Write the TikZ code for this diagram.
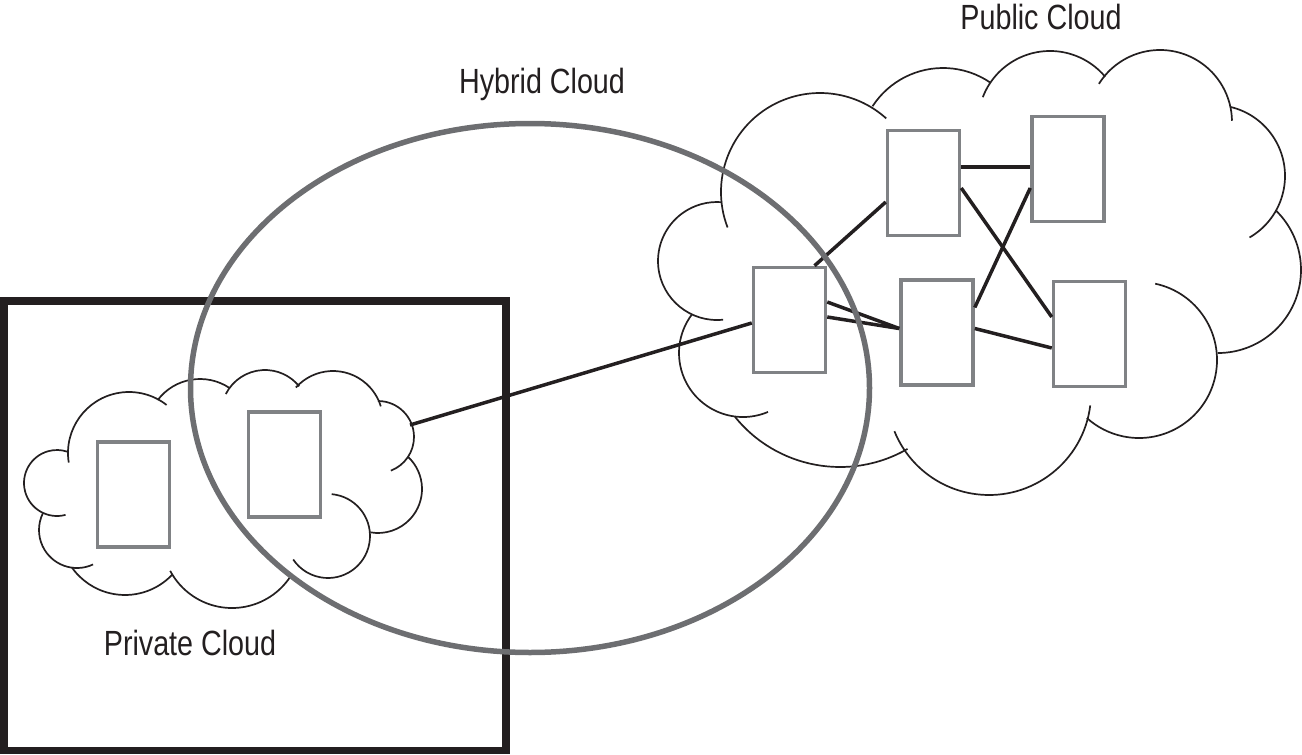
\documentclass[tikz,border=0pt]{standalone}
\usepackage{fontspec}
\newfontfamily\labelfont{Liberation Sans}[FakeStretch=0.82]
\definecolor{inkblack}{HTML}{231F20}
\definecolor{boxgray}{HTML}{808285}
\definecolor{ringgray}{HTML}{6D6E71}
\tikzset{
  cloud line/.style={line width=1.7pt, draw=inkblack},
  server box/.style={draw=boxgray, line width=3.5pt, minimum width=72pt, minimum height=105pt, inner sep=0pt},
  link/.style={line width=3.5pt, draw=inkblack},
  cloud label/.style={font=\labelfont\fontsize{35}{40}\selectfont, text=inkblack, inner sep=0pt, anchor=base},
}
\begin{document}
\begin{tikzpicture}[x=1pt, y=-1pt]
                \useasboundingbox (0,0) rectangle (1302,755);
                
                % Drawing private boundary
                \draw [line width=7.5pt, draw=inkblack] (3.75,301) rectangle (506,750.5);%
                
                % Drawing private cloud, puff by puff
                \draw [cloud line] (57,483) ++(75:33) arc [start angle=75, end angle=288, radius=33];%
                \draw [cloud line] (129,453) ++(171:61) arc [start angle=171, end angle=308, radius=61];%
                \draw [cloud line] (200,432) ++(217:53) arc [start angle=217, end angle=304, radius=53];%
                \draw [cloud line] (265,414) ++(207:44) arc [start angle=207, end angle=321, radius=44];%
                \draw [cloud line] (333,421) ++(222:50) arc [start angle=222, end angle=343, radius=50];%
                \draw [cloud line] (378,437) ++(270:36) arc [start angle=270, end angle=429, radius=36];%
                \draw [cloud line] (378,489) ++(313:44) arc [start angle=313, end angle=460, radius=44];%
                \draw [cloud line] (328,536) ++(275:42) arc [start angle=275, end angle=506, radius=42];%
                \draw [cloud line] (232,538) ++(34:70) arc [start angle=34, end angle=152, radius=70];%
                \draw [cloud line] (125,530) ++(43:65) arc [start angle=43, end angle=145, radius=65];%
                \draw [cloud line] (77,530) ++(65:38) arc [start angle=65, end angle=206, radius=38];%
                
                % Drawing public cloud, puff by puff
                \draw [cloud line] (717,261) ++(84:59) arc [start angle=84, end angle=275, radius=59];%
                \draw [cloud line] (820,192) ++(159:99) arc [start angle=159, end angle=312, radius=99];%
                \draw [cloud line] (943,152) ++(213:84) arc [start angle=213, end angle=304, radius=84];%
                \draw [cloud line] (1050,123) ++(201:72) arc [start angle=201, end angle=320, radius=72];%
                \draw [cloud line] (1160,122) ++(212:72) arc [start angle=212, end angle=359, radius=72];%
                \draw [cloud line] (1214,176) ++(283:71) arc [start angle=283, end angle=420, radius=71];%
                \draw [cloud line] (1218,270) ++(314:83) arc [start angle=314, end angle=450, radius=83];%
                \draw [cloud line] (1139,360) ++(282:78) arc [start angle=282, end angle=492, radius=78];%
                \draw [cloud line] (989,393) ++(7:102) arc [start angle=7, end angle=158, radius=102];%
                \draw [cloud line] (840,332) ++(60:135) arc [start angle=60, end angle=141, radius=135];%
                \draw [cloud line] (743,353) ++(67:64) arc [start angle=67, end angle=217, radius=64];%
                
                % Placing servers
                \node [server box] (privA) at (133.5,494.5) {};%
                \node [server box] (privB) at (284.5,464.5) {};%
                \node [server box] (pubA) at (923.5,183) {};%
                \node [server box] (pubB) at (1068,169) {};%
                \node [server box] (pubC) at (789.5,320) {};%
                \node [server box] (pubD) at (937,332.5) {};%
                \node [server box] (pubE) at (1089.5,334) {};%
                \coordinate (privlink) at (410,425);%
                
                % Drawing links
                \draw [link] (privlink) -- ([yshift=-3pt]pubC.west);%
                \draw [link] ([yshift=16pt]pubA.east) -- ([yshift=2pt]pubB.west);%
                \draw [link] ([xshift=25pt]pubC.north) -- ([yshift=-19pt]pubA.west);%
                \draw [link] ([yshift=-5pt]pubA.east) -- ([yshift=17pt]pubE.west);%
                \draw [link] ([yshift=-19pt]pubB.west) -- ([yshift=25pt]pubD.east);%
                \draw [link] ([yshift=18pt]pubC.east) -- ([yshift=4pt]pubD.west);%
                \draw [link] ([yshift=3pt]pubC.east) -- ([yshift=4pt]pubD.west);%
                \draw [link] ([yshift=4pt]pubD.east) -- ([yshift=-14pt]pubE.west);%
                
                % Drawing hybrid ring
                \draw [line width=5.5pt, draw=ringgray] (530,388) ellipse [x radius=339.5, y radius=264.5];%
                
                % Marking labels
                \node [cloud label] (publabel) at (1041,29) {Public Cloud};%
                \node [cloud label] (hyblabel) at (542,93) {Hybrid Cloud};%
                \node [cloud label] (privlabel) at (190,655) {Private Cloud};%
\end{tikzpicture}
\end{document}
